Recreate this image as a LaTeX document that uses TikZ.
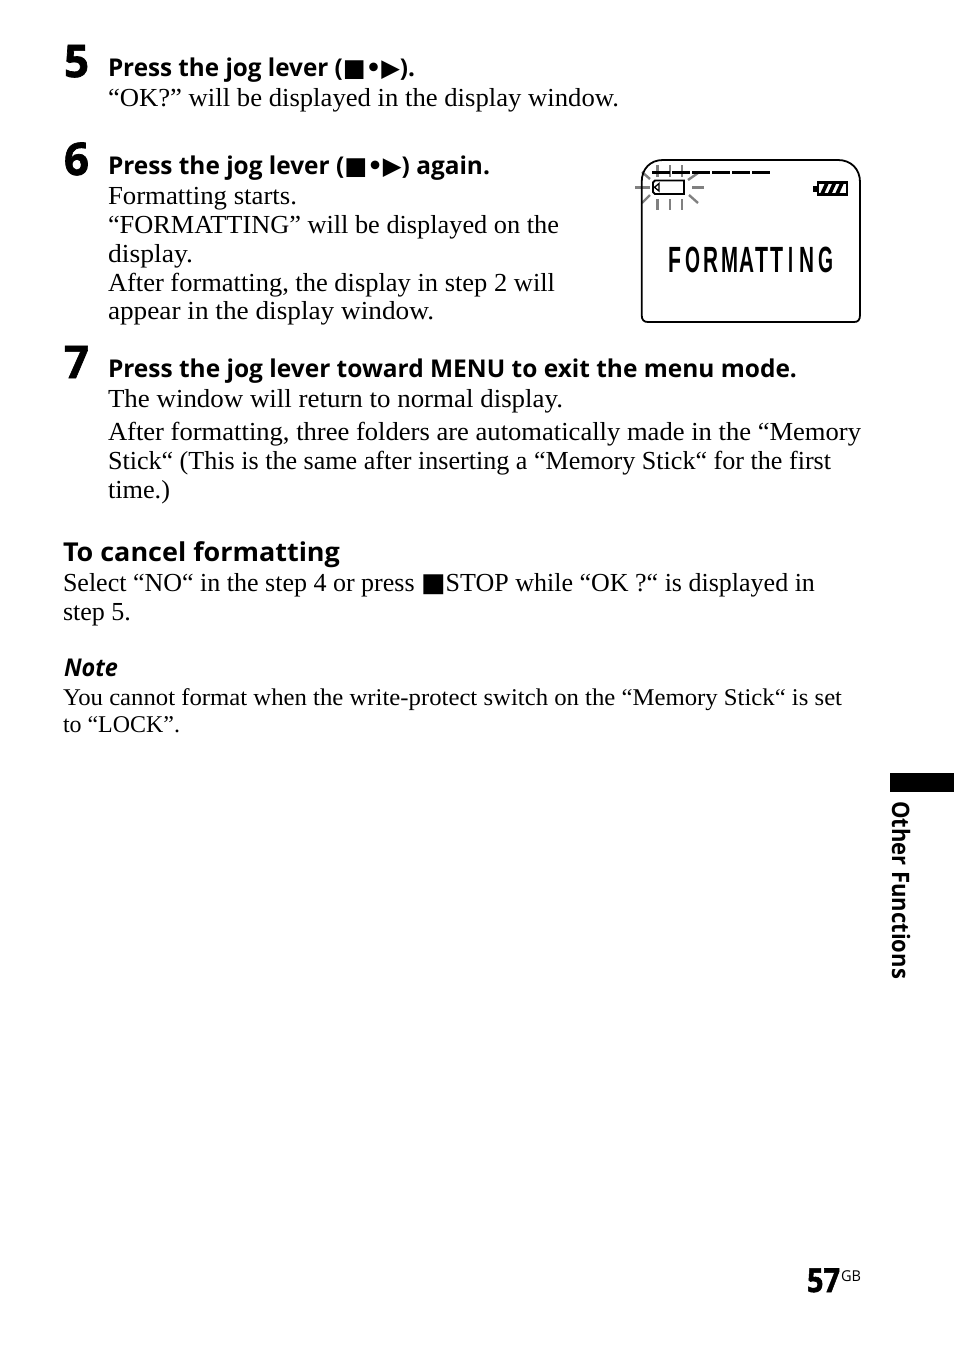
\documentclass[tikz,border=0pt]{standalone}
\usepackage{fontspec}
\usepackage{graphicx}
\setmainfont{Liberation Serif}
\newfontfamily\headfont{Open Sans}
\newfontfamily\numfont[FakeBold=1.6]{Open Sans Bold}
\newfontfamily\symfont{DejaVu Sans}
\newfontfamily\lcdfont{Liberation Sans}
\newcommand{\fitw}[2]{\resizebox{#1pt}{\height}{#2}}
\newcommand{\stopsym}{{\symfont\char"25A0}}
\newcommand{\playsym}{{\symfont\char"25B6}}
\newcommand{\dotsym}{{\symfont\char"2022}}
\tikzset{
  txt/.style={anchor=base west,inner sep=0pt,outer sep=0pt},
  body/.style={txt,font=\fontsize{26}{29}\selectfont},
  small/.style={txt,font=\fontsize{24}{27}\selectfont},
  head/.style={txt,font=\headfont\bfseries\fontsize{24.5}{29}\selectfont},
  bighead/.style={txt,font=\headfont\bfseries\fontsize{26}{29}\selectfont},
  num/.style={txt,font=\numfont\fontsize{45}{50}\selectfont},
  ray/.style={draw=black!50,line width=2.4pt},
  lcd/.style={txt,font=\lcdfont\bfseries\fontsize{36.5}{36}\selectfont},
  dashseg/.style={line width=3pt,black}
}
\begin{document}
\begin{tikzpicture}[x=1pt,y=-1pt]
\useasboundingbox (0,0) rectangle (954,1345);
% step numbers
\node[num] (n5) at (64,77) {\fitw{25}{5}};
\node[num] (n6) at (64,175) {\fitw{25}{6}};
\node[num] (n7) at (64,378) {\fitw{25}{7}};
% step 5
\node[head] (h5) at (108,76) {\fitw{307}{Press the jog lever (\stopsym\dotsym\playsym).}};
\node[body] (l1) at (108,106) {\fitw{511}{“OK?” will be displayed in the display window.}};
% step 6
\node[head] (h6) at (108,174) {\fitw{382}{Press the jog lever (\stopsym\dotsym\playsym) again.}};
\node[body] (l2) at (108,204) {\fitw{189}{Formatting starts.}};
\node[body] (l3) at (108,233) {\fitw{451}{“FORMATTING” will be displayed on the}};
\node[body] (l4) at (108,262) {\fitw{85}{display.}};
\node[body] (l5) at (108,291) {\fitw{447}{After formatting, the display in step 2 will}};
\node[body] (l6) at (108,319) {\fitw{326}{appear in the display window.}};
% step 7
\node[head] (h7) at (108,377) {\fitw{689}{Press the jog lever toward MENU to exit the menu mode.}};
\node[body] (l7) at (108,407) {\fitw{455}{The window will return to normal display.}};
\node[body] (l8) at (108,440) {\fitw{753}{After formatting, three folders are automatically made in the “Memory}};
\node[body] (l9) at (108,469) {\fitw{723}{Stick“ (This is the same after inserting a “Memory Stick“ for the first}};
\node[body] (l10) at (108,498) {\fitw{62}{time.)}};
% cancel
\node[bighead] (h8) at (63,561) {\fitw{277}{To cancel formatting}};
\node[body] (l11) at (63,591) {\fitw{752}{Select “NO“ in the step 4 or press \stopsym STOP while “OK ?“ is displayed in}};
\node[body] (l12) at (63,620) {\fitw{68}{step 5.}};
% note
\node[head] (h9) at (64,676) {\fitw{54}{\itshape Note}};
\node[small] (l13) at (63,705) {\fitw{779}{You cannot format when the write-protect switch on the “Memory Stick“ is set}};
\node[small] (l14) at (63,732) {\fitw{117}{to “LOCK”.}};
% side tab
\fill (890,773) rectangle (954,792);
\node[txt,font=\headfont\bfseries\fontsize{24}{24}\selectfont,rotate=-90] (side) at (892,801) {\fitw{178}{Other Functions}};
% page number
\node[txt,font=\numfont\fontsize{33}{36}\selectfont] (pg) at (807,1292) {\fitw{33}{57}};
\node[txt,font=\headfont\fontsize{15}{15}\selectfont] (gb) at (841,1281) {\fitw{20}{GB}};
% LCD
\foreach \a in {657.5,670,682} {\draw[ray] (\a,165) -- (\a,177); \draw[ray] (\a,199) -- (\a,210);}
\draw[ray] (635,187.5) -- (650,187.5);
\draw[ray] (692,187.5) -- (704,187.5);
\draw[ray] (642,172) -- (650,179);
\draw[ray] (688,180) -- (698,173);
\draw[ray] (642,203) -- (650,195);
\draw[ray] (689,195) -- (698,203);
\draw[line width=1.8pt]
  (663,160) -- (838,160) .. controls (851,160) and (860,169) .. (860,182)
  -- (860,315) .. controls (860,320) and (858,322) .. (854,322)
  -- (648,322) .. controls (644,322) and (641.7,320) .. (641.7,315)
  -- (641.7,182) .. controls (641.7,169) and (650,160) .. (663,160) -- cycle;
\foreach \a in {652,672,692,712,732,752} \draw[dashseg] (\a,172) -- ++(18,0);
\draw[line width=1.8pt,fill=white] (655,180.5) -- (684,180.5) -- (684,194) -- (655,194) -- (653,192) -- (653,182.5) -- cycle;
\draw[line width=1.3pt] (659,183.5) -- (654.5,187.3) -- (659,191) -- cycle;
% battery
\draw[line width=2.2pt] (818,182.5) -- (847,182.5) -- (847,194.5) -- (818,194.5) -- cycle;
\fill (813,185.5) rectangle (818,191.5);
\foreach \a in {820,827.5,835} \fill (\a,194) -- (\a+4,194) -- (\a+9,183) -- (\a+5,183) -- cycle;
% FORMATTING
\node[lcd] (f1) at (668,272) {\fitw{13}{F}};
\node[lcd] (f2) at (685.5,272) {\fitw{15}{O}};
\node[lcd] (f3) at (703.5,272) {\fitw{15}{R}};
\node[lcd] (f4) at (721,272) {\fitw{17}{M}};
\node[lcd] (f5) at (739.5,272) {\fitw{15}{A}};
\node[lcd] (f6) at (755,272) {\fitw{13}{T}};
\node[lcd] (f7) at (770,272) {\fitw{13}{T}};
\node[lcd] (f8) at (788,272) {\fitw{5}{I}};
\node[lcd] (f9) at (799,272) {\fitw{15}{N}};
\node[lcd] (f10) at (818,272) {\fitw{15}{G}};
\end{tikzpicture}
\end{document}
